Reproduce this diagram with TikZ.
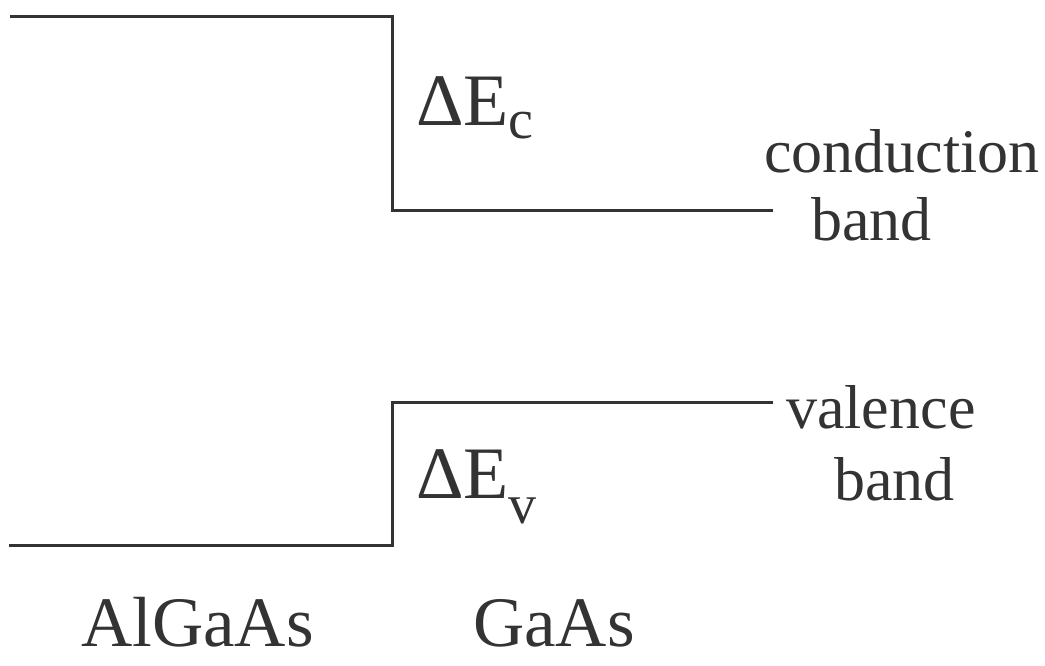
\documentclass[tikz,border=0pt]{standalone}
\usepackage{fontspec}
\setmainfont{Liberation Serif}
\usepackage{xcolor}
\usepackage{tikz}
\usetikzlibrary{positioning}

\definecolor{ink}{HTML}{333333}
\newcommand{\bigtext}{\fontsize{74}{80}\selectfont}
\newcommand{\subtext}{\fontsize{56}{60}\selectfont}

\begin{document}
\begin{tikzpicture}[
    x=1pt, y=-1pt,
    band/.style={draw=ink, line width=3pt},
    lbl/.style={inner sep=0pt, text=ink, font=\fontsize{62}{70}\selectfont},
    big/.style={inner sep=0pt, text=ink, font=\bigtext},
    mat/.style={inner sep=0pt, text=ink, font=\fontsize{71}{76}\selectfont}
]
\useasboundingbox (0,0) rectangle (1045,665);

% band edges
\coordinate (cbL) at (10,16);
\coordinate (cbS) at (392,16);
\coordinate (cbB) at (392,210);
\coordinate (cbR) at (773,210);
\coordinate (vbL) at (9,545);
\coordinate (vbS) at (392,545);
\coordinate (vbT) at (392,402);
\coordinate (vbR) at (773,402);

\draw[band] (cbL) -- (cbS) -- (cbB) -- (cbR);
\draw[band] (vbL) -- (vbS) -- (vbT) -- (vbR);

% offsets
\node[big, anchor=base west] (dEc) at (416,125) {ΔE\raisebox{-13pt}{\subtext c}};
\node[big, anchor=base west] (dEv) at (416,498) {ΔE\raisebox{-25pt}{\subtext v}};

% band labels
\node[lbl, anchor=base west] (cond) at (764,172) {conduction};
\node[lbl, anchor=base west] (condb) at (811,240) {band};
\node[lbl, anchor=base west] (val) at (786,428) {valence};
\node[lbl, anchor=base west] (valb) at (834,500) {band};

% materials
\node[mat, anchor=base west] (algaas) at (81,646) {AlGaAs};
\node[mat, anchor=base west] (gaas) at (473,646) {GaAs};
\end{tikzpicture}
\end{document}
